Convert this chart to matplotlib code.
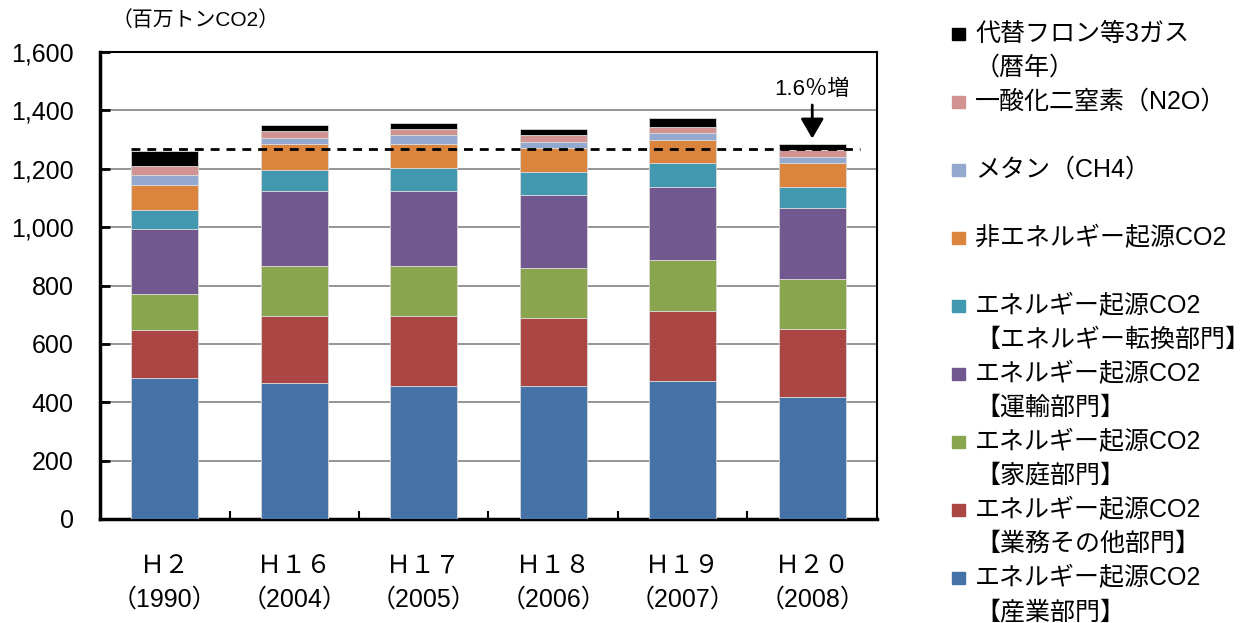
import matplotlib
matplotlib.use("Agg")
import matplotlib.pyplot as plt
from matplotlib.patches import Rectangle
from matplotlib.ticker import FuncFormatter

# --- data (百万トンCO2), bottom segment first ---
categories = ["Ｈ２\n（1990）", "Ｈ１６\n（2004）", "Ｈ１７\n（2005）",
              "Ｈ１８\n（2006）", "Ｈ１９\n（2007）", "Ｈ２０\n（2008）"]
industry    = [484, 465, 457, 457, 472, 419]
commercial  = [162, 232, 240, 233, 240, 233]
residential = [126, 170, 170, 170, 176, 171]
transport   = [220, 256, 256, 249, 248, 242]
energy_conv = [67, 74, 81, 81, 84, 71]
non_energy  = [86, 87, 81, 80, 80, 82]
methane     = [35, 23, 29, 23, 23, 22]
n2o         = [31, 21, 21, 22, 20, 23]
fgas        = [51, 23, 22, 22, 30, 22]
base_year_total = 1267
increase_label = "1.6％増"

series = [industry, commercial, residential, transport, energy_conv,
          non_energy, methane, n2o, fgas]
names = ["エネルギー起源CO2\n【産業部門】",
         "エネルギー起源CO2\n【業務その他部門】",
         "エネルギー起源CO2\n【家庭部門】",
         "エネルギー起源CO2\n【運輸部門】",
         "エネルギー起源CO2\n【エネルギー転換部門】",
         "非エネルギー起源CO2",
         "メタン（CH4）",
         "一酸化二窒素（N2O）",
         "代替フロン等3ガス\n（暦年）"]
colors = ["#4572A7", "#AA4643", "#89A54E", "#71588F", "#4198AF",
          "#DB843D", "#93A9CF", "#D19392", "#000000"]

JP = ["Liberation Sans", "Noto Sans CJK JP"]
plt.rcParams["font.family"] = JP

W, H = 1257, 623
fig = plt.figure(figsize=(W / 100, H / 100), dpi=100)
ax = fig.add_axes([100 / W, 104 / H, 777 / W, 467 / H])

x = list(range(len(categories)))
bottom = [0] * len(categories)
for vals, color in zip(series, colors):
    ax.bar(x, vals, 0.52, bottom=bottom, color=color,
           edgecolor="#d9d9d9", linewidth=0.6, zorder=3)
    bottom = [b + v for b, v in zip(bottom, vals)]

ax.set_xlim(-0.5, 5.5)
ax.set_ylim(0, 1600)
ax.set_yticks(range(0, 1601, 200))
ax.yaxis.set_major_formatter(FuncFormatter(lambda v, p: f"{int(v):,}"))
ax.grid(axis="y", color="#8c8c8c", linewidth=1.3, zorder=0)
ax.set_axisbelow(True)

ax.set_xticks(x)
ax.set_xticklabels(categories, fontsize=18)
for lbl in ax.get_xticklabels():
    lbl.set_linespacing(1.5)
ax.set_xticks([i + 0.5 for i in x[:-1]], minor=True)
ax.tick_params(axis="x", which="major", length=0, pad=25)
ax.tick_params(axis="x", which="minor", direction="in", length=6, width=1.5)
ax.tick_params(axis="y", direction="in", length=7, width=2, labelsize=18, pad=19)

for side in ["left", "bottom"]:
    ax.spines[side].set_linewidth(2.5)
for side in ["top", "right"]:
    ax.spines[side].set_linewidth(1.5)

# base-year dashed line and the 2008 arrow
ax.hlines(base_year_total, -0.26, 5.37, colors="black", linewidth=2,
          linestyles=(0, (3.2, 2.5)), zorder=4)
ax.annotate("", xy=(5, bottom[-1] + 9), xytext=(5, 1428),
            arrowprops=dict(arrowstyle="-|>,head_length=0.55,head_width=0.32",
                            color="black", lw=2, mutation_scale=22), zorder=5)
ax.text(5, 1472, increase_label, ha="center", va="center", fontsize=16, zorder=5)

fig.text(196 / W, 1 - 20 / H, "（百万トンCO2）", ha="center", va="center", fontsize=15)

# legend, top entry first
for i, (name, color) in enumerate(zip(names[::-1], colors[::-1])):
    py = 34 + 68 * i
    fig.add_artist(Rectangle((952 / W, 1 - (py + 6) / H), 13 / W, 12 / H,
                             transform=fig.transFigure, color=color))
    lines = name.split("\n")
    for j, line in enumerate(lines):
        fig.text(975 / W, 1 - (py + 34 * j) / H, line, ha="left",
                 va="center", fontsize=18)

fig.savefig("out.png", dpi=100)
